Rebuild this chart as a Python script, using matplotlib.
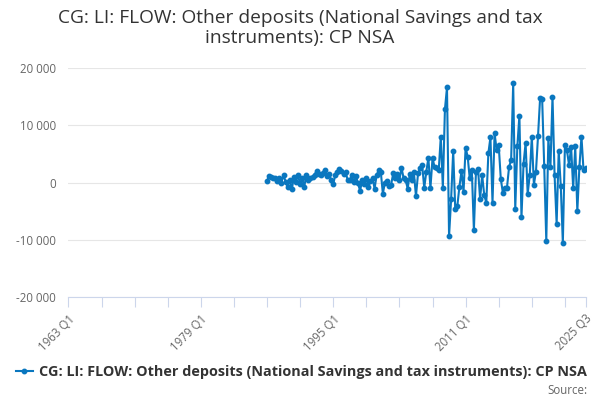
import matplotlib.pyplot as plt
import pandas as pd

plt.rcParams['font.family'] = ['Open Sans', 'DejaVu Sans']

title = 'CG: LI: FLOW: Other deposits (National Savings and tax\ninstruments): CP NSA'
series_name = 'CG: LI: FLOW: Other deposits (National Savings and tax instruments): CP NSA'

# quarterly flow, 1987 Q1 onwards
first_quarter = '1987Q1'
flow_1987_1998 = [230, 1160, 990, 750, 700, 290, 870, 0, 1280, 120,
                  -750, 500, -1200, 990, 120, 1280, -290, 700, -750, 1280,
                  520, 870, 990, 1390, 1970, 1570, 1390, 1740, 2260, 1160,
                  1570, 410, -290, 1280, 1860, 2440, 1970, 1570, 1860, 410,
                  410, 1280, 120, 1100, -170, -1450, 410, -200]
flow_1999_2007 = [700, -760, 230, 700, -1050, 1300, 2150, 1870, -1950, 0,
                  230, -600, -350, 1580, 820, 1400, 410, 2570, 820, 410,
                  -1050, 1400, 410, 1750, -2400, 1580, 2450, 3040, -940, 1870,
                  4300, -940, 4200, 2750, 2460]
flow_2007_2016 = [2100, 8000, -900, 12800, 16600, -9400, -2900, 5500, -4700, -4100,
                  -750, 2000, -1600, 6100, 4500, 700, 2250, -8300, 1850, 2400,
                  -2900, 1300, -2200, -3500, 5100, 7900, -3500, 8600, 5700, 6500,
                  650, -1800, -900, -900, 2700, 3900]
flow_2016_2025 = [17300, -4600, 6300, 11700, -6100, 3300, 6900, -2000, 1300, 8000,
                  -350, 1850, 8100, 14700, 14600, 2800, -10200, 7700, 2700, 15000,
                  1300, -7200, 5500, -600, -10600, 6500, 5600, 3000, 6200, -1000,
                  6300, -5000, 2700, 8000, 2100, 2600]
flow = flow_1987_1998 + flow_1999_2007 + flow_2007_2016 + flow_2016_2025

y_ticks = [-20000, -10000, 0, 10000, 20000]
x_tick_quarters = ['%dQ1' % y for y in range(1963, 2024, 4)] + ['2025Q3']
x_labelled = {'1963Q1': '1963 Q1', '1979Q1': '1979 Q1', '1995Q1': '1995 Q1',
              '2011Q1': '2011 Q1', '2025Q3': '2025 Q3'}


def qpos(p):
    return p.year + (p.quarter - 1) / 4


quarters = pd.period_range(first_quarter, periods=len(flow), freq='Q')
x = [qpos(p) for p in quarters]

fig = plt.figure(figsize=(6, 4), dpi=100)
ax = fig.add_axes([0.114, 0.2575, 0.862, 0.5725])
ax.plot(x, flow, color='#0a77bf', lw=1.5, marker='o', ms=3.2, label=series_name)

ax.set_xlim(1963, 2025.5)
ax.set_ylim(-20000, 20000)
ax.set_yticks(y_ticks)
ax.set_yticklabels(['{:,}'.format(v).replace(',', ' ') for v in y_ticks])
ax.grid(axis='y', color='#e6e6e6', lw=0.8)
ax.set_axisbelow(True)

for s in ['top', 'right', 'left']:
    ax.spines[s].set_visible(False)
ax.spines['bottom'].set_color('#ccd6eb')
ax.tick_params(axis='x', length=7, color='#ccd6eb', labelsize=8.3,
               labelcolor='#666666', pad=4)
ax.tick_params(axis='y', length=0, labelsize=8.3, labelcolor='#666666', pad=9)

tick_periods = [pd.Period(q, freq='Q') for q in x_tick_quarters]
ax.set_xticks([qpos(p) for p in tick_periods])
ax.set_xticklabels([x_labelled.get(q, '') for q in x_tick_quarters])
for lab in ax.get_xticklabels():
    lab.set_rotation(45)
    lab.set_ha('right')
    lab.set_rotation_mode('anchor')

fig.text(0.5, 0.978, title, ha='center', va='top', fontsize=13.8,
         color='#333333', linespacing=1.15)

fig.legend(loc='center', bbox_to_anchor=(0.502, 0.07), frameon=False,
           handlelength=1.2, handletextpad=0.4,
           prop={'size': 10.4, 'weight': 'bold'}, labelcolor='#333333')
fig.text(0.98, 0.025, 'Source:', ha='right', va='center', fontsize=8.3,
         color='#666666')

plt.savefig('out.png')
